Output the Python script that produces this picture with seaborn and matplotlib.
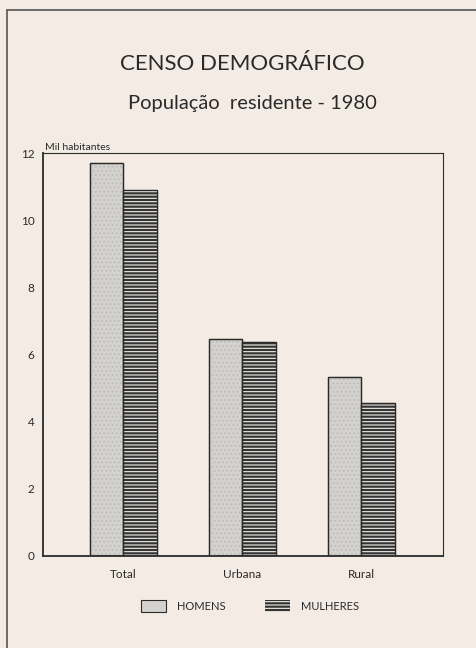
import matplotlib
matplotlib.use("Agg")
import matplotlib.pyplot as plt
import seaborn as sns
import pandas as pd
from matplotlib.patches import Patch, Rectangle
from matplotlib.lines import Line2D

categories = ["Total", "Urbana", "Rural"]
homens = [11.7, 6.45, 5.33]
mulheres = [10.9, 6.38, 4.55]
series_names = ["HOMENS", "MULHERES"]
yticks = [0, 2, 4, 6, 8, 10, 12]

df = pd.DataFrame({
    "cat": categories * 2,
    "sexo": [series_names[0]] * 3 + [series_names[1]] * 3,
    "val": homens + mulheres,
})

sns.set_style("white")
plt.rcParams["font.family"] = ["Lato", "DejaVu Sans"]
plt.rcParams["hatch.linewidth"] = 0.8

bg = "#f4ece4"
c_h = "#d3d2ce"
c_m = "#333333"
ink = "#2a2a2a"

fig = plt.figure(figsize=(4.77, 6.48), dpi=100, facecolor=bg)
ax = fig.add_axes([43/477, 1-556/648, 400/477, (556-153)/648])
ax.set_facecolor(bg)

sns.barplot(data=df, x="cat", y="val", hue="sexo", order=categories,
            hue_order=series_names, palette=[c_h, c_m], width=0.57, gap=0,
            edgecolor=ink, linewidth=0.9, legend=False, ax=ax, saturation=1)

# texture overlays
for p in list(ax.patches):
    fc = p.get_facecolor()
    if fc[0] < 0.5:
        hatch, hc = "-----", "#f2f0ec"
    else:
        hatch, hc = "....", "#bdbcb8"
    ov = Rectangle(p.get_xy(), p.get_width(), p.get_height(), facecolor="none",
                   edgecolor=hc, hatch=hatch, linewidth=0, zorder=p.get_zorder() + 0.1)
    ax.add_patch(ov)
    ol = Rectangle(p.get_xy(), p.get_width(), p.get_height(), facecolor="none",
                   edgecolor=ink, linewidth=0.9, zorder=p.get_zorder() + 0.2)
    ax.add_patch(ol)

ax.set_xlim(-0.676, 2.685)
ax.set_ylim(0, 12)
ax.set_yticks(yticks)
ax.set_yticklabels([str(v) for v in yticks], fontsize=8.5, color=ink)
ax.tick_params(axis="y", direction="out", length=5, width=0.8, color=ink, pad=1)
ax.tick_params(axis="x", length=0, labelsize=8.5, colors=ink, pad=9)
ax.set_xlabel("")
ax.set_ylabel("")
for s in ax.spines.values():
    s.set_visible(True)
    s.set_color(ink)
    s.set_linewidth(0.8)
ax.spines["left"].set_linewidth(1.3)
ax.spines["bottom"].set_linewidth(1.3)

ax.text(0.005, 1.003, "Mil habitantes", transform=ax.transAxes, fontsize=7.5,
        color=ink, ha="left", va="bottom")

fig.text(242/477, 1-64/648, "CENSO DEMOGRÁFICO", fontsize=16, color=ink,
         ha="center", va="center")
fig.text(252/477, 1-104/648, "População  residente - 1980", fontsize=14.5, color=ink,
         ha="center", va="center")

handles = [Patch(facecolor=c_h, edgecolor=ink, linewidth=0.8),
           Patch(facecolor=c_m, edgecolor="#f2f0ec", hatch="-----", linewidth=0)]
leg = fig.legend(handles, series_names, loc="center", bbox_to_anchor=(250/477, 1-606/648),
                 ncol=2, frameon=False, fontsize=8, handlelength=2.3, handleheight=1.4,
                 columnspacing=3.5, handletextpad=1.0, labelcolor=ink)

# page border lines
fig.add_artist(Line2D([7/477, 7/477], [0, 1-10/648], transform=fig.transFigure,
                      color="#555555", linewidth=1.2))
fig.add_artist(Line2D([7/477, 1], [1-10/648, 1-10/648], transform=fig.transFigure,
                      color="#555555", linewidth=1.2))

fig.savefig("out.png", dpi=100, facecolor=bg)
